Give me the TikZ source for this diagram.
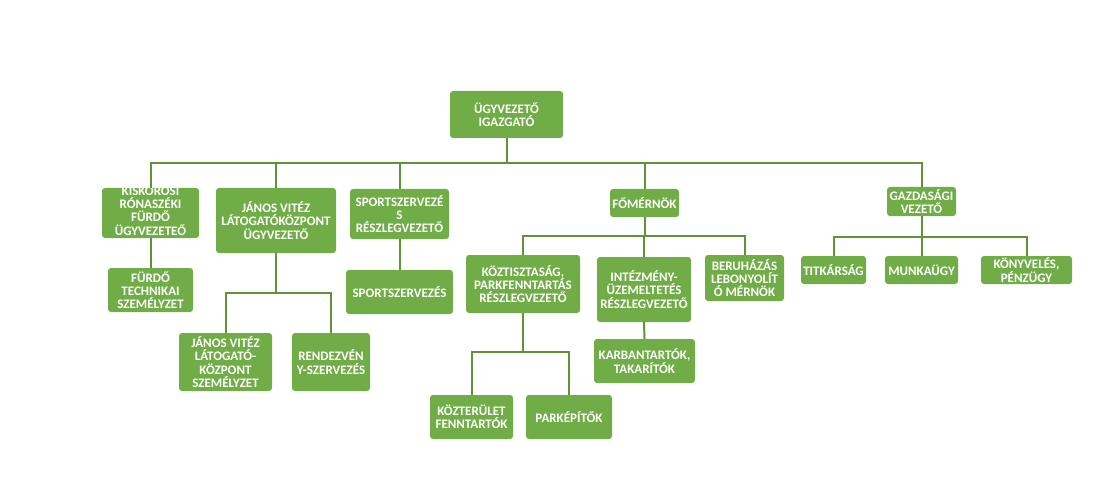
\documentclass[tikz,border=0pt]{standalone}
\usepackage{fontspec}
\setmainfont{Carlito}
\definecolor{boxgreen}{HTML}{70AD47}
\definecolor{linegreen}{HTML}{5E9339}
\begin{document}
\begin{tikzpicture}[x=1pt,y=-1pt,
  orgbox/.style={fill=boxgreen, rounded corners=3pt, text=white,
    font=\fontsize{13}{13.3}\selectfont\bfseries, align=center, inner sep=0pt},
  orgtext/.style={text=white, font=\fontsize{13}{13.3}\selectfont\bfseries, align=center, inner sep=0pt},
  link/.style={draw=linegreen, line width=2pt}]
\useasboundingbox (0,0) rectangle (1102,481);
% connectors bus coordinates
\coordinate (busmain) at (0,163);
\coordinate (busjanos) at (0,293);
\coordinate (busfo) at (0,236);
\coordinate (buskozt) at (0,352);
\coordinate (busgazd) at (0,237);

\node[orgbox, minimum width=113pt, minimum height=47pt] (top) at (506.5,114.5) {ÜGYVEZETŐ\\IGAZGATÓ};
\node[orgbox, minimum width=97pt, minimum height=50pt] (kisk) at (150.5,213) {};
\begin{scope}
\clip (kisk.south west) rectangle (kisk.north east);
\node[orgtext, anchor=base] (kisktxt) at (150.5,235) {KISKŐRÖSI\\RÓNASZÉKI\\FÜRDŐ\\ÜGYVEZETEŐ};
\end{scope}
\node[orgbox, minimum width=85pt, minimum height=44pt] (furdo) at (150.5,290) {FÜRDŐ\\TECHNIKAI\\SZEMÉLYZET};
\node[orgbox, minimum width=120pt, minimum height=65pt] (janos) at (276,220.5) {JÁNOS VITÉZ\\LÁTOGATÓKÖZPONT\\ÜGYVEZETŐ};
\node[orgbox, minimum width=99pt, minimum height=50pt] (sport) at (399.5,214) {SPORTSZERVEZÉ\\S\\RÉSZLEGVEZETŐ};
\node[orgbox, minimum width=107pt, minimum height=44pt] (sportsz) at (399.5,292) {SPORTSZERVEZÉS};
\node[orgbox, minimum width=93pt, minimum height=58pt] (jszem) at (225.5,362) {JÁNOS VITÉZ\\LÁTOGATÓ-\\KÖZPONT\\SZEMÉLYZET};
\node[orgbox, minimum width=78pt, minimum height=58pt] (rendez) at (331,362) {RENDEZVÉN\\Y-SZERVEZÉS};
\node[orgbox, minimum width=69pt, minimum height=28pt] (fomern) at (644.5,203) {FŐMÉRNÖK};
\node[orgbox, minimum width=114pt, minimum height=58pt] (kozt) at (523,284) {KÖZTISZTASÁG,\\PARKFENNTARTÁS\\RÉSZLEGVEZETŐ};
\node[orgbox, minimum width=94pt, minimum height=65pt] (intez) at (644,289.5) {INTÉZMÉNY-\\ÜZEMELTETÉS\\RÉSZLEGVEZETŐ};
\node[orgbox, minimum width=79pt, minimum height=46pt] (beruh) at (744.5,278) {BERUHÁZÁS\\LEBONYOLÍT\\Ó MÉRNÖK};
\node[orgbox, minimum width=83pt, minimum height=44pt] (kozter) at (471.5,417) {KÖZTERÜLET\\FENNTARTÓK};
\node[orgbox, minimum width=86pt, minimum height=44pt] (parke) at (569,417) {PARKÉPÍTŐK};
\node[orgbox, minimum width=101pt, minimum height=44pt] (karb) at (644.5,361) {KARBANTARTÓK,\\TAKARÍTÓK};
\node[orgbox, minimum width=69pt, minimum height=29pt] (gazd) at (921.5,201.5) {GAZDASÁGI\\VEZETŐ};
\node[orgbox, minimum width=65pt, minimum height=28pt] (titk) at (833.5,270) {TITKÁRSÁG};
\node[orgbox, minimum width=73pt, minimum height=28pt] (munk) at (921.5,270) {MUNKAÜGY};
\node[orgbox, minimum width=91pt, minimum height=28pt] (konyv) at (1026.5,270) {KÖNYVELÉS,\\PÉNZÜGY};

% top level
\draw[link] (top.south) -- (top.south |- busmain);
\draw[link] (kisk.north) -- (kisk.north |- busmain) -- (gazd.north |- busmain) -- (gazd.north);
\draw[link] (janos.north) -- (janos.north |- busmain);
\draw[link] (sport.north) -- (sport.north |- busmain);
\draw[link] (fomern.north) -- (fomern.north |- busmain);
% simple chains
\draw[link] (kisk.south) -- (furdo.north);
\draw[link] (sport.south) -- (sportsz.north);
\draw[link] (intez.south) -- (karb.north);
% janos children
\draw[link] (janos.south) -- (janos.south |- busjanos);
\draw[link] (jszem.north) -- (jszem.north |- busjanos) -- (rendez.north |- busjanos) -- (rendez.north);
% fomernok children
\draw[link] (fomern.south) -- (fomern.south |- busfo);
\draw[link] (kozt.north) -- (kozt.north |- busfo) -- (beruh.north |- busfo) -- (beruh.north);
\draw[link] (intez.north) -- (intez.north |- busfo);
% koztisztasag children
\draw[link] (kozt.south) -- (kozt.south |- buskozt);
\draw[link] (kozter.north) -- (kozter.north |- buskozt) -- (parke.north |- buskozt) -- (parke.north);
% gazdasagi children
\draw[link] (gazd.south) -- (gazd.south |- busgazd);
\draw[link] (titk.north) -- (titk.north |- busgazd) -- (konyv.north |- busgazd) -- (konyv.north);
\draw[link] (munk.north) -- (munk.north |- busgazd);
\end{tikzpicture}
\end{document}
